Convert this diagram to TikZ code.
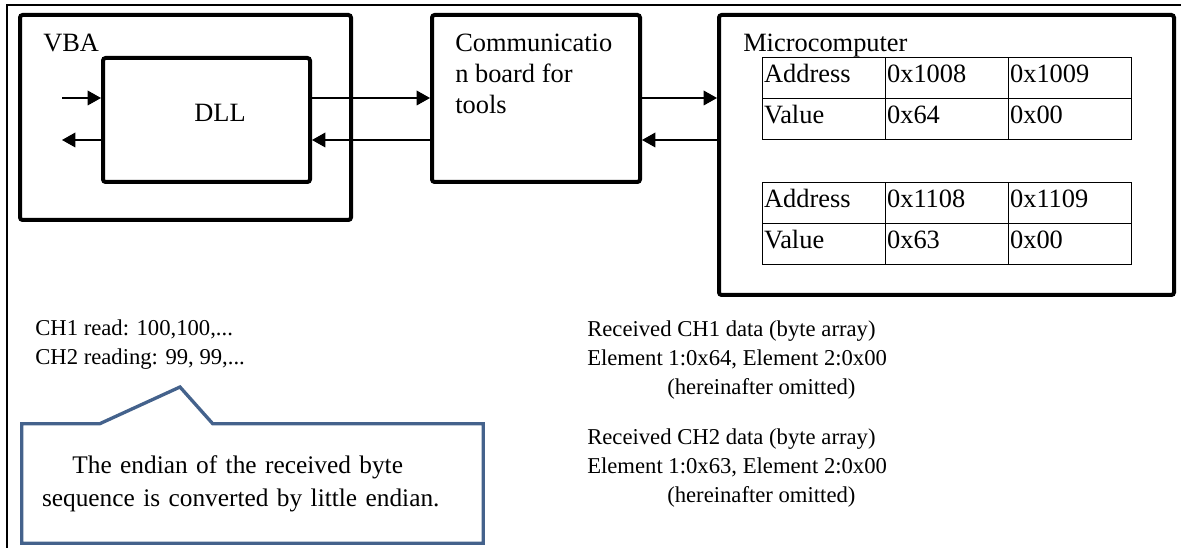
\documentclass[tikz,border=0pt]{standalone}
\usepackage{fontspec}
\setmainfont{Liberation Serif}
\usetikzlibrary{arrows.meta, positioning, calc, matrix}
\definecolor{noteblue}{RGB}{68, 98, 140}
\tikzset{
  frameline/.style={line width=1.5pt},
  blockbox/.style={draw, line width=3pt, rounded corners=2pt, inner sep=0pt},
  boxtext/.style={font=\fontsize{19.8}{23.25}\selectfont, inner sep=0pt, align=left},
  plaintext/.style={font=\fontsize{17}{21.4}\selectfont, inner sep=0pt, align=left},
  celltab/.style={matrix of nodes, inner sep=0pt, column sep=-0.75pt, row sep=-0.75pt,
    nodes={draw, line width=0.75pt, font=\fontsize{19.8}{23.25}\selectfont, inner xsep=1pt, inner ysep=0pt,
      text width=90.25pt, align=left, minimum height=30.75pt, text height=14pt, text depth=7.25pt}},
  sigarrow/.style={-{Triangle[length=10pt, width=11pt]}, line width=1pt},
  notebox/.style={minimum width=345.75pt, minimum height=89.25pt, inner xsep=15pt, inner ysep=0pt,
    text width=315.75pt, align=left, font=\fontsize{19}{24.75}\selectfont},
  noteline/.style={draw=noteblue, line width=2.5pt, line join=miter},
}
\begin{document}
\begin{tikzpicture}[x=0.75pt, y=-0.75pt]
  \useasboundingbox (0,0) rectangle (1181,548);
  \draw[frameline] (1181,5) -- (7,5) -- (7,548);
  % blocks
  \node[blockbox, minimum width=248.25pt, minimum height=153.75pt] (vba) at (185.5,117.5) {};
  \node[blockbox, fill=white, minimum width=155.25pt, minimum height=93pt] (dll) at (206.5,120) {};
  \node[blockbox, minimum width=156pt, minimum height=125.25pt] (comm) at (536,98.5) {};
  \node[blockbox, minimum width=341.25pt, minimum height=210pt] (mcu) at (946.5,155) {};
  \node[boxtext, anchor=base west] (vbalbl) at (43,52) {VBA};
  \node[boxtext] (dlllbl) at (220,113) {DLL};
  \node[boxtext, anchor=north west] (commlbl) at (455,34) {Communicatio\\n board for\\tools};
  \node[boxtext, anchor=base west] (mculbl) at (743,52) {Microcomputer};
  % memory tables
  \matrix (tabA) [celltab, anchor=north west] at (762,57) {
    Address & 0x1008 & 0x1009 \\
    Value & 0x64 & 0x00 \\
  };
  \matrix (tabB) [celltab, anchor=north west] at (762,182) {
    Address & 0x1108 & 0x1109 \\
    Value & 0x63 & 0x00 \\
  };
  % signal arrows
  \coordinate (inA) at (62,98);
  \coordinate (outA) at (62,140);
  \draw[sigarrow] (inA) -- (inA -| dll.west);
  \draw[sigarrow] (outA -| dll.west) -- (outA);
  \draw[sigarrow] (inA -| dll.east) -- (inA -| comm.west);
  \draw[sigarrow] (outA -| comm.west) -- (outA -| dll.east);
  \draw[sigarrow] (inA -| comm.east) -- (inA -| mcu.west);
  \draw[sigarrow] (outA -| mcu.west) -- (outA -| comm.east);
  % read values
  \node[plaintext, anchor=north west] (readv) at (35,320) {CH1 read: 100,100,...\\CH2 reading: 99, 99,...};
  \node[plaintext, anchor=north west] (rxA) at (587,321) {Received CH1 data (byte array)\\Element 1:0x64, Element 2:0x00\\\hspace*{60pt}(hereinafter omitted)};
  \node[plaintext, anchor=north west] (rxB) at (587,429) {Received CH2 data (byte array)\\Element 1:0x63, Element 2:0x00\\\hspace*{60pt}(hereinafter omitted)};
  % callout
  \coordinate (tip) at (180,387);
  \node[notebox] (note) at (252.5,483.5) {\hspace*{1.2em}The endian of the received byte\\sequence is converted by little endian.};
  \draw[noteline] (note.north west) -- ([xshift=58.5pt]note.north west) -- (tip)
    -- ([xshift=143.25pt]note.north west) -- (note.north east) -- (note.south east)
    -- (note.south west) -- cycle;
\end{tikzpicture}
\end{document}
